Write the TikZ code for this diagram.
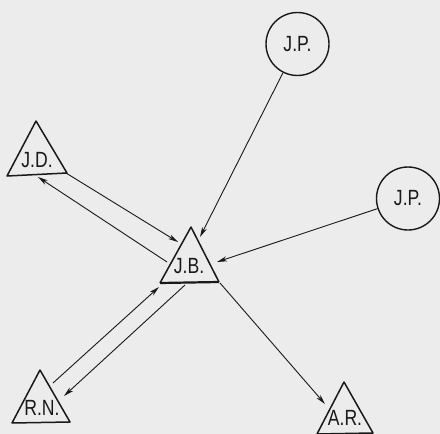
\documentclass[tikz,border=0pt]{standalone}
\usepackage{fontspec}
\setmainfont{Liberation Sans}[FakeStretch=0.8]
\usetikzlibrary{arrows.meta}
\definecolor{paper}{RGB}{236,236,236}
\definecolor{ink}{RGB}{25,25,25}
\tikzset{
  tri/.style={draw=ink, line width=1.5pt, line join=round},
  base/.style={draw=ink, line width=2.2pt},
  lbl/.style={font=\fontsize{22}{22}\selectfont, text=ink, inner sep=0pt},
  person/.style={circle, draw=ink, line width=1.4pt, minimum size=63pt, inner sep=0pt, font=\fontsize{22}{22}\selectfont, text=ink},
  link/.style={draw=ink, line width=0.9pt, -{Stealth[length=10pt,width=5pt,inset=3pt]}}
}
\begin{document}
\begin{tikzpicture}[x=1pt,y=-1pt]
\path[fill=paper] (0,0) rectangle (440,434);
\useasboundingbox (0,0) rectangle (440,434);
\clip (0,0) rectangle (440,434);
% triangles
\draw[tri] (160,283) -- (191,227) -- (219,282);
\draw[base] (160,283) -- (219,282);
\draw[tri] (7,176) -- (36,121) -- (67,173) -- cycle;
\draw[tri] (12,423) -- (40,370) -- (70,422) -- cycle;
\draw[tri] (317,434) -- (344,382) -- (373,433) -- cycle;
% labels
\node[lbl] (jb) at (189,266) {J.B.};
\node[lbl] (jd) at (37,160) {J.D.};
\node[lbl] (rn) at (42,408) {R.N.};
\node[lbl] (ar) at (345,418) {A.R.};
% circles
\node[person] (jp1) at (297.5,44) {J.P.};
\node[person] (jp2) at (408,198.5) {J.P.};
% connector end points
\coordinate (jbA) at (200,237);
\coordinate (jbB) at (217,262);
\coordinate (jbC) at (178,242);
\coordinate (jbD) at (167,262);
\coordinate (jbE) at (159,287);
\coordinate (jbF) at (185,285);
\coordinate (jbG) at (220,283);
\coordinate (jdA) at (66,173);
\coordinate (jdB) at (38,177);
\coordinate (rnA) at (53,383);
\coordinate (rnB) at (64,396);
\coordinate (arA) at (325,404);
% connectors
\draw[link] (jp1) -- (jbA);
\draw[link] (jp2) -- (jbB);
\draw[link] (jdA) -- (jbC);
\draw[link] (jbD) -- (jdB);
\draw[link] (rnA) -- (jbE);
\draw[link] (jbF) -- (rnB);
\draw[link] (jbG) -- (arA);
\end{tikzpicture}
\end{document}
